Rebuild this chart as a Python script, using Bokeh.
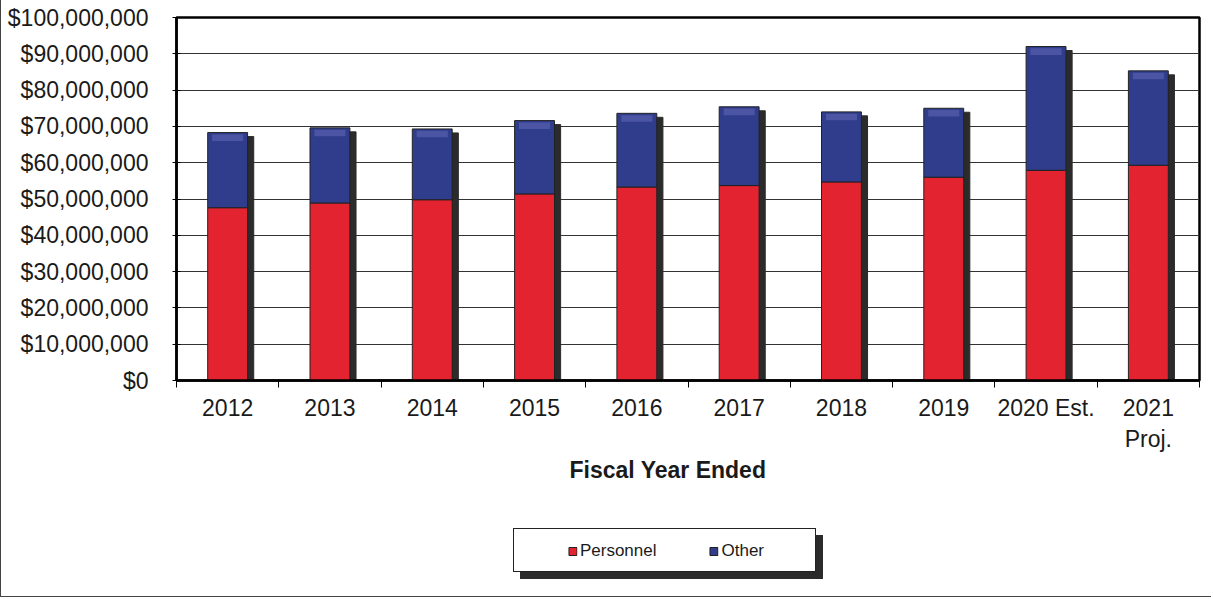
from bokeh.plotting import figure
from bokeh.layouts import column, row
from bokeh.models import (ColumnDataSource, FixedTicker, CustomJSTickFormatter, NumeralTickFormatter,
                          Legend, LegendItem, Range1d, Title, Spacer)
from bokeh.transform import dodge
from bokeh.embed import file_html
from bokeh.resources import INLINE

categories = ["2012", "2013", "2014", "2015", "2016", "2017", "2018", "2019", "2020 Est.", "2021\nProj."]
personnel = [47_600_000, 48_900_000, 49_800_000, 51_400_000, 53_300_000,
             53_700_000, 54_700_000, 56_000_000, 57_900_000, 59_300_000]
other = [20_700_000, 20_700_000, 19_500_000, 20_200_000, 20_300_000,
         21_700_000, 19_300_000, 19_000_000, 34_100_000, 26_000_000]
y_ticks = [0, 10_000_000, 20_000_000, 30_000_000, 40_000_000, 50_000_000,
           60_000_000, 70_000_000, 80_000_000, 90_000_000, 100_000_000]
series_names = ["Personnel", "Other"]
x_title = "Fiscal Year Ended"

RED = "#e3232f"
BLUE = "#2f3d8c"
SHADOW = "#2b2b2b"
FONT = "Liberation Sans"
TXT = "#1a1a1a"

x = [i + 0.5 for i in range(len(categories))]
total = [a + b for a, b in zip(personnel, other)]
shadow_top = [t - 1_100_000 for t in total]
bevel_top = [t - 500_000 for t in total]
bevel_bot = [t - 2_300_000 for t in total]

src = ColumnDataSource(dict(x=x, personnel=personnel, other=other, total=total,
                            shadow_top=shadow_top, bevel_top=bevel_top, bevel_bot=bevel_bot,
                            zero=[0] * len(x)))

p = figure(width=1210, height=520, output_backend="svg", toolbar_location=None,
           x_range=Range1d(0, len(categories)), y_range=Range1d(0, 100_000_000),
           min_border_left=175, min_border_right=12, min_border_top=17, min_border_bottom=140)
p.background_fill_color = "white"
p.border_fill_color = "white"
p.outline_line_color = "black"
p.outline_line_width = 2.5

BW = 0.39
p.vbar(x=dodge("x", 0.06), bottom="zero", top="shadow_top", width=BW, source=src,
       fill_color=SHADOW, line_color=SHADOW)
p.vbar(x="x", bottom="zero", top="personnel", width=BW, source=src,
       fill_color=RED, line_color="#222222", line_width=1)
p.vbar(x="x", bottom="personnel", top="total", width=BW, source=src,
       fill_color=BLUE, line_color="#222222", line_width=1)
p.vbar(x="x", bottom="bevel_bot", top="bevel_top", width=BW * 0.78, source=src,
       fill_color="#7070c0", fill_alpha=0.45, line_color=None)

p.xgrid.visible = False
p.ygrid.ticker = FixedTicker(ticks=y_ticks)
p.ygrid.grid_line_color = "#333333"
p.ygrid.grid_line_width = 1.2

ya = p.yaxis[0]
ya.ticker = FixedTicker(ticks=y_ticks)
ya.formatter = NumeralTickFormatter(format="$0,0")
ya.axis_line_color = "black"
ya.axis_line_width = 2.5
ya.major_tick_in = 4
ya.major_tick_out = 4
ya.major_tick_line_color = "black"
ya.minor_tick_line_color = None
ya.major_label_standoff = 24
ya.major_label_text_font = FONT
ya.major_label_text_font_size = "23px"
ya.major_label_text_color = TXT

xa = p.xaxis[0]
xa.ticker = FixedTicker(ticks=x, minor_ticks=list(range(len(categories) + 1)))
xa.formatter = CustomJSTickFormatter(args=dict(labels=categories),
                                     code="return labels[Math.floor(tick)];")
xa.major_tick_line_color = None
xa.minor_tick_line_color = "black"
xa.minor_tick_out = 7
xa.minor_tick_in = 0
xa.axis_line_color = "black"
xa.axis_line_width = 2.5
xa.major_label_standoff = 7
xa.major_label_text_font = FONT
xa.major_label_text_font_size = "23px"
xa.major_label_text_color = TXT

t = Title(text=x_title, align="left", offset=393, standoff=0,
          text_font=FONT, text_font_style="bold", text_font_size="23px", text_color=TXT)
p.add_layout(t, "below")

# legend panel (proxy glyphs sit outside the panel's visible range)
lg = figure(width=303, height=44, output_backend="svg", toolbar_location=None,
            x_range=Range1d(0, 1), y_range=Range1d(0, 1),
            x_axis_type=None, y_axis_type=None, min_border=0)
lg.background_fill_color = "white"
lg.border_fill_color = "white"
lg.outline_line_color = None
lg.xgrid.visible = False
lg.ygrid.visible = False
lg.styles = {"border": "1.5px solid #222", "box-shadow": "7px 7px 0 #2b2b2b"}
proxy = ColumnDataSource(dict(x=[-10], top=[-10]))
lr1 = lg.vbar(x="x", top="top", width=0.1, source=proxy, fill_color=RED, line_color="#222222")
lr2 = lg.vbar(x="x", top="top", width=0.1, source=proxy, fill_color=BLUE, line_color="#222222")
legend = Legend(items=[LegendItem(label=series_names[0], renderers=[lr1]),
                       LegendItem(label=series_names[1], renderers=[lr2])],
                orientation="horizontal", location="center",
                background_fill_alpha=0, border_line_color=None,
                glyph_width=10, glyph_height=10, label_standoff=3, spacing=52,
                label_text_font=FONT, label_text_font_size="17px", label_text_color=TXT,
                padding=2, margin=0)
lg.add_layout(legend, "center")

layout = column(p, Spacer(width=10, height=8),
                row(Spacer(width=512, height=44), lg),
                Spacer(width=10, height=24))
layout.styles = {"border-left": "1px solid #444", "border-bottom": "1px solid #444"}

open("out.html", "w").write(file_html(layout, INLINE))
